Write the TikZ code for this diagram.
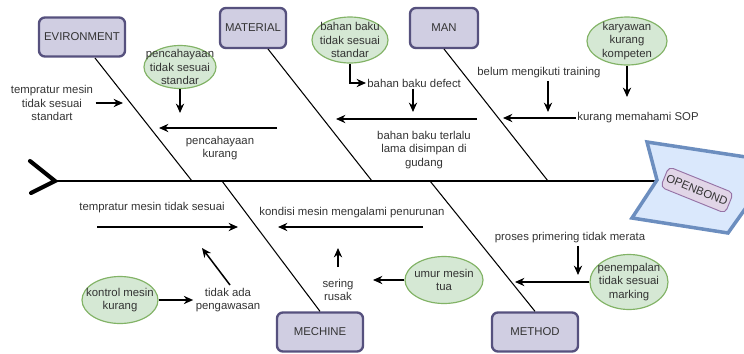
\documentclass[tikz,border=0pt]{standalone}
\usepackage{fontspec}
\setmainfont{Liberation Sans}
\usetikzlibrary{arrows.meta,shapes.geometric}
\definecolor{boxfill}{HTML}{D0CEE2}
\definecolor{boxline}{HTML}{56517E}
\definecolor{leaffill}{HTML}{D5E8D4}
\definecolor{leafline}{HTML}{82B366}
\definecolor{headfill}{HTML}{DAE8FC}
\definecolor{headline}{HTML}{6C8EBF}
\definecolor{tagfill}{HTML}{E1D5E7}
\definecolor{tagline}{HTML}{9673A6}
\begin{document}
\begin{tikzpicture}[x=0.03cm, y=-0.03cm,
  every node/.style={font=\fontsize{9.7}{11.5}\selectfont, text=black!80, align=center, inner sep=2pt},
  cat/.style={draw=boxline, fill=boxfill, line width=2pt, rounded corners=5pt, minimum width=2.58cm, minimum height=1.17cm},
  leaf/.style={ellipse, draw=leafline, fill=leaffill, line width=1pt, inner sep=0pt},
  bone/.style={line width=0.9pt},
  arr/.style={-{Stealth[length=8pt, width=7pt]}, line width=1.3pt}]
\clip (0,0) rectangle (744,353);
\node[cat] (env) at (82,37) {EVIRONMENT};
\node[cat, minimum width=1.98cm, minimum height=1.2cm] (mat) at (253,28) {MATERIAL};
\node[cat, minimum width=2.04cm, minimum height=1.2cm] (man) at (444,28) {MAN};
\node[cat] (mec) at (320,332) {MECHINE};
\node[cat] (met) at (535,332) {METHOD};
\coordinate (tail) at (55,181);
\coordinate (neck) at (657,181);
\coordinate (s1) at (192,181);
\coordinate (s2) at (372,181);
\coordinate (s3) at (548,181);
\coordinate (s4) at (222,181);
\coordinate (s5) at (430,181);
\coordinate (b1) at (95,58);
\coordinate (b2) at (268,49);
\coordinate (b3) at (444,49);
\draw[line width=3.5pt, line cap=round] (30,161) -- (tail) -- (31,193);
\draw[bone] (tail) -- (neck);
\draw[bone] (b1) -- (s1);
\draw[bone] (b2) -- (s2);
\draw[bone] (b3) -- (s3);
\draw[bone] (s4) -- (mec.north);
\draw[bone] (s5) -- (met.north);
\draw[draw=headline, fill=headfill, line width=3pt] (647,142) -- (746,157) -- (755,195) -- (728,233) -- (632,218) -- (657,180) -- cycle;
\node[draw=tagline, fill=tagfill, rounded corners=4pt, rotate=-22, minimum width=2.05cm, minimum height=0.66cm, line width=0.8pt] (tag) at (697,190) {OPENBOND};
\node (t1) at (52,103) {tempratur mesin\\tidak sesuai\\standart};
\coordinate (c1) at (123,103);
\draw[arr] (t1) -- (c1);
\node[leaf, minimum width=2.16cm, minimum height=1.29cm, label={center:pencahayaan\\tidak sesuai\\standar}] (e1) at (180,67) {};
\coordinate (c2) at (180,113);
\draw[arr] (e1) -- (c2);
\node (t2) at (220,148) {pencahayaan\\kurang};
\coordinate (c3s) at (277,128);
\coordinate (c3) at (159,128);
\draw[arr] (c3s) -- (c3);
\node[leaf, minimum width=2.28cm, minimum height=1.38cm, label={center:bahan baku\\tidak sesuai\\standar}] (e2) at (350,40) {};
\node[anchor=west, inner sep=1pt] (t3) at (366,83) {bahan baku defect};
\draw[arr] (e2) |- (t3);
\coordinate (c5) at (413,112);
\draw[arr] (c5 |- t3.south) -- (c5);
\node (t4) at (424,150) {bahan baku terlalu\\lama disimpan di\\gudang};
\coordinate (c6s) at (477,119);
\coordinate (c6) at (336,119);
\draw[arr] (c6s) -- (c6);
\node[leaf, minimum width=2.4cm, minimum height=1.44cm, label={center:karyawan\\kurang\\kompeten}] (e3) at (627,41) {};
\coordinate (c7) at (627,97);
\draw[arr] (e3) -- (c7);
\node (t5) at (539,73) {belum mengikuti training};
\coordinate (c8) at (548,112);
\draw[arr] (c8 |- t5.south) -- (c8);
\node[inner sep=1pt] (t6) at (638,118) {kurang memahami SOP};
\coordinate (c9) at (503,118);
\draw[arr] (t6) -- (c9);
\node (t7) at (152,208) {tempratur mesin tidak sesuai};
\coordinate (c10s) at (97,227);
\coordinate (c10) at (238,227);
\draw[arr] (c10s) -- (c10);
\node (t8) at (228,300) {tidak ada\\pengawasan};
\coordinate (c11s) at (230,285);
\coordinate (c11) at (202,248);
\draw[arr] (c11s) -- (c11);
\node[leaf, minimum width=2.28cm, minimum height=1.41cm, label={center:kontrol mesin\\kurang}] (e4) at (120,300) {};
\draw[arr] (e4) -- (t8);
\node (t9) at (352,213) {kondisi mesin mengalami penurunan};
\coordinate (c13s) at (423,227);
\coordinate (c13) at (278,227);
\draw[arr] (c13s) -- (c13);
\node (t10) at (338,290) {sering\\rusak};
\coordinate (c14s) at (338,267);
\coordinate (c14) at (338,248);
\draw[arr] (c14s) -- (c14);
\node[leaf, minimum width=2.34cm, minimum height=1.41cm, label={center:umur mesin\\tua}] (e5) at (444,280) {};
\coordinate (c15) at (373,280);
\draw[arr] (e5) -- (c15);
\node (t11) at (570,238) {proses primering tidak merata};
\coordinate (c16) at (578,275);
\draw[arr] (c16 |- t11.south) -- (c16);
\node[leaf, minimum width=2.34cm, minimum height=1.65cm, label={center:penempalan\\tidak sesuai\\marking}] (e6) at (629,282) {};
\coordinate (c17) at (515,282);
\draw[arr] (e6) -- (c17);
\end{tikzpicture}
\end{document}
